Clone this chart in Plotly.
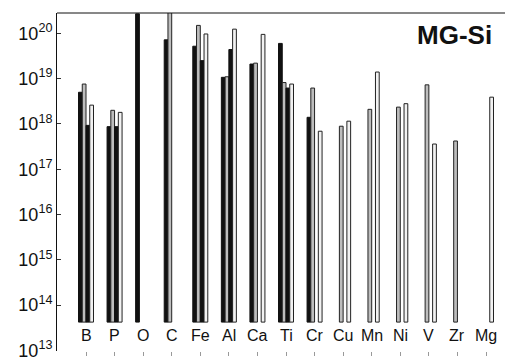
import math
import plotly.graph_objects as go

# Impurity concentrations (atoms/cm^3) in metallurgical-grade silicon
elements = ["B", "P", "O", "C", "Fe", "Al", "Ca", "Ti", "Cr", "Cu", "Mn", "Ni", "V", "Zr", "Mg"]
sample1_a = [5.0e18, 8.7e17, 2.7e20, 7.2e19, 5.2e19, 1.07e19, 2.1e19, 6.0e19, 1.4e18,
             None, None, None, None, None, None]
sample1_b = [7.6e18, 2.0e18, None, 3.0e20, 1.5e20, 1.1e19, 2.2e19, 8.2e18, 6.2e18,
             8.9e17, 2.1e18, 2.35e18, 7.3e18, 4.2e17, None]
sample2_a = [9.3e17, 8.7e17, None, None, 2.5e19, 4.4e19, None, 6.2e18, None,
             None, None, None, None, None, None]
sample2_b = [2.6e18, 1.8e18, None, None, 9.7e19, 1.24e20, 9.5e19, 7.6e18, 6.9e17,
             1.15e18, 1.4e19, 2.8e18, 3.6e17, None, 3.9e18]

ytick_exp = [13, 14, 15, 16, 17, 18, 19, 20]
bar_base = 4.2e13
label_y = 2.1e13

x = list(range(len(elements)))
FONT = "Liberation Sans, Arial, sans-serif"

fig = go.Figure()
series = [
    (sample1_a, "#111111", "#111111"),
    (sample1_b, "#bdbdbd", "#222222"),
    (sample2_a, "#111111", "#111111"),
    (sample2_b, "#f2f2f2", "#222222"),
]
for vals, fill, edge in series:
    fig.add_trace(go.Bar(
        x=x, y=vals, base=bar_base,
        marker=dict(color=fill, line=dict(color=edge, width=1)),
        showlegend=False,
    ))

# element labels sitting just above the bottom of the axes
annotations = [
    dict(text=el, x=xi, y=math.log10(label_y), xref="x", yref="y",
         showarrow=False, xanchor="center", yanchor="middle",
         font=dict(family=FONT, size=16, color="#111111"))
    for xi, el in zip(x, elements)
]
annotations.append(dict(
    text="<b>MG-Si</b>", xref="paper", yref="paper",
    x=(494 - 57) / 448, y=1 - (35 - 13) / 345,
    xanchor="right", yanchor="middle", showarrow=False,
    font=dict(family=FONT, size=26, color="#111111"),
))

fig.update_layout(
    width=507, height=363,
    margin=dict(l=57, r=2, t=13, b=5),
    paper_bgcolor="white", plot_bgcolor="white",
    barmode="group", bargap=0.475, bargroupgap=0,
    font=dict(family=FONT, color="#111111"),
    xaxis=dict(
        range=[-1.015, 14.665], tickvals=x, showticklabels=False,
        ticks="outside", ticklen=4, tickcolor="#999999",
        showgrid=False, zeroline=False, showline=False,
    ),
    yaxis=dict(
        type="log", range=[12.985, 20.45],
        tickvals=[10.0 ** e for e in ytick_exp],
        ticktext=["10<sup>%d</sup>" % e for e in ytick_exp],
        ticks="inside", ticklen=4, tickcolor="#333333",
        tickfont=dict(family=FONT, size=18, color="#111111"),
        ticklabeloverflow="allow",
        showgrid=False, zeroline=False,
        showline=True, linecolor="#111111", linewidth=1,
    ),
    shapes=[
        dict(type="line", xref="paper", yref="paper", x0=0, x1=1, y0=1, y1=1,
             line=dict(color="#111111", width=1)),
        dict(type="line", xref="paper", yref="y", x0=0, x1=18 / 448,
             y0=13, y1=13, line=dict(color="#333333", width=1)),
    ],
    annotations=annotations,
)

fig.write_html("out.html")
